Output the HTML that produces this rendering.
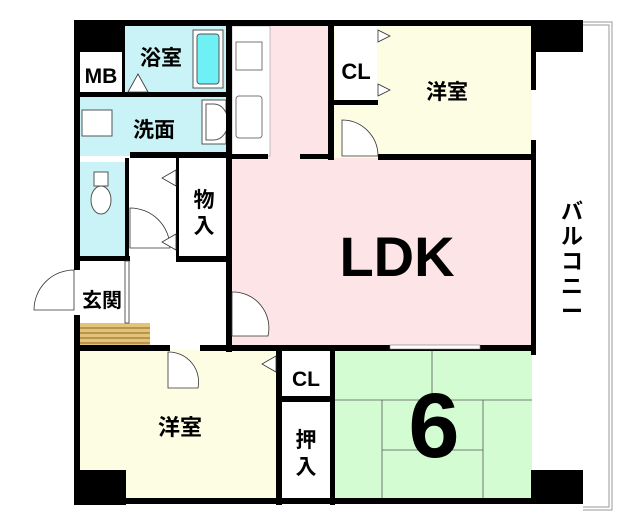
<!DOCTYPE html><html><head><meta charset="utf-8"><style>body{margin:0;background:#fff}svg{display:block}text{font-family:"Liberation Sans","Noto Sans CJK JP",sans-serif;font-weight:bold;fill:#000}</style></head><body>
<svg width="640" height="526" viewBox="0 0 640 526" xmlns="http://www.w3.org/2000/svg">
<rect x="230" y="24" width="302" height="324" fill="#fde4e6"/>
<rect x="232" y="26" width="38" height="130" fill="#fff" stroke="#999" stroke-width="0.6"/>
<rect x="332" y="24" width="200" height="134" fill="#fdfde4"/>
<rect x="335" y="26" width="42" height="74" fill="#fff"/>
<rect x="124" y="26" width="104" height="66" fill="#c9f3f6"/>
<rect x="80" y="96" width="148" height="60" fill="#c9f3f6"/>
<rect x="80" y="162" width="46" height="96" fill="#c9f3f6"/>
<rect x="80" y="52" width="42" height="40" fill="#fff"/>
<rect x="80" y="350" width="198" height="150" fill="#fdfde4"/>
<rect x="334" y="350" width="198" height="150" fill="#d4fcd2"/>
<rect x="80" y="323" width="70" height="22" fill="#e3c27a"/>
<g stroke="#8a6a20" stroke-width="1"><line x1="80" y1="328" x2="150" y2="328"/><line x1="80" y1="333" x2="150" y2="333"/><line x1="80" y1="338" x2="150" y2="338"/><line x1="80" y1="343" x2="150" y2="343"/></g>
<rect x="193" y="30" width="30" height="58" fill="#fff" stroke="#555"/>
<rect x="197" y="34" width="22" height="50" rx="3" fill="#6ef0f4" stroke="#555"/>
<rect x="82" y="110" width="30" height="26" fill="#fff" stroke="#555"/>
<rect x="202" y="100" width="24" height="44" fill="#fff" stroke="#555"/>
<path d="M206,104 h8 a14,18 0 0 1 0,36 h-8z" fill="#fff" stroke="#555"/>
<rect x="236" y="42" width="26" height="28" fill="#fff" stroke="#777"/>
<rect x="236" y="96" width="26" height="42" rx="3" fill="#fff" stroke="#777"/>
<ellipse cx="101" cy="200" rx="10" ry="14" fill="#fff" stroke="#555"/><rect x="94" y="172" width="14" height="14" fill="#fff" stroke="#555"/>
<g stroke="#555" stroke-width="0.8" fill="none"><line x1="334" y1="400" x2="532" y2="400"/><line x1="432" y1="350" x2="432" y2="400"/><line x1="382" y1="400" x2="382" y2="500"/><line x1="483" y1="400" x2="483" y2="500"/><line x1="382" y1="450" x2="483" y2="450"/></g>
<g fill="#000">
<rect x="74" y="20" width="462" height="6"/>
<rect x="74" y="20" width="6" height="250"/><rect x="74" y="315" width="6" height="190"/>
<rect x="74" y="20" width="50" height="32"/>
<rect x="531" y="20" width="52" height="32"/>
<rect x="531" y="20" width="5" height="70"/><rect x="531" y="140" width="5" height="215"/><rect x="531" y="470" width="52" height="34"/><rect x="531" y="470" width="5" height="34"/>
<rect x="74" y="470" width="52" height="35"/>
<rect x="74" y="498" width="462" height="6"/>
<rect x="122" y="26" width="3" height="66"/>
<rect x="74" y="92" width="154" height="5"/>
<rect x="226" y="26" width="6" height="130"/>
<rect x="74" y="156" width="6" height="6"/><rect x="130" y="152" width="102" height="6"/>
<rect x="226" y="152" width="6" height="200"/>
<rect x="230" y="154" width="38" height="5"/><rect x="300" y="154" width="30" height="5"/><rect x="378" y="154" width="158" height="6"/>
<rect x="328" y="26" width="6" height="134"/><rect x="332" y="100" width="46" height="5"/>
<rect x="125" y="158" width="4" height="100"/><rect x="74" y="256" width="56" height="5"/>
<rect x="176" y="158" width="3" height="100"/><rect x="176" y="256" width="54" height="6"/>
<rect x="74" y="345" width="96" height="6"/><rect x="200" y="345" width="336" height="6"/>
<rect x="276" y="345" width="6" height="160"/><rect x="330" y="345" width="5" height="160"/><rect x="278" y="396" width="56" height="6"/>
</g>
<rect x="125" y="261" width="4" height="62" fill="#fff" stroke="#333" stroke-width="0.8"/>
<rect x="390" y="345" width="90" height="4" fill="#fff" stroke="#777" stroke-width="0.6"/>
<g fill="#fff" stroke="#333" stroke-width="0.8">
<path d="M342,120 a36,36 0 0 1 36,36 h-36z"/>
<path d="M232,292 a36,36 0 0 1 36,44 h-36z"/>
<path d="M130,208 a40,40 0 0 1 40,40 h-40z"/>
<path d="M74,270 a40,40 0 0 0 -40,40 h40z"/>
<path d="M168,352 a30,30 0 0 1 30,36 h-30z"/>
<path d="M128,92 l10,-18 l10,18z"/>
<path d="M378,30 l12,6 l-12,6z"/><path d="M378,84 l12,6 l-12,6z"/>
<path d="M176,170 l-14,8 l14,8z"/><path d="M176,234 l-14,8 l14,8z"/>
<path d="M276,356 l-14,8 l14,8z"/>
</g>
<g fill="none" stroke="#999" stroke-width="1"><path d="M583,22 H612 V510 H583"/><path d="M583,25 H609 V507 H583"/></g>
<text x="101" y="83" font-size="21" text-anchor="middle">MB</text>
<text x="161" y="65" font-size="21" text-anchor="middle">浴室</text>
<text x="154" y="137" font-size="21" text-anchor="middle">洗面</text>
<text x="356" y="79" font-size="22" text-anchor="middle">CL</text>
<text x="447" y="99" font-size="21" text-anchor="middle">洋室</text>
<text x="204" y="207" font-size="21" text-anchor="middle">物</text><text x="204" y="233" font-size="21" text-anchor="middle">入</text>
<text x="102" y="307" font-size="20" text-anchor="middle">玄関</text>
<text x="397" y="276" font-size="56" text-anchor="middle">LDK</text>
<text x="306" y="386" font-size="21" text-anchor="middle">CL</text>
<text x="306" y="447" font-size="21" text-anchor="middle">押</text><text x="306" y="474" font-size="21" text-anchor="middle">入</text>
<text x="180" y="435" font-size="22" text-anchor="middle">洋室</text>
<text x="434" y="457" font-size="92" text-anchor="middle">6</text>
<text x="572" y="219" font-size="22" text-anchor="middle">バ</text><text x="572" y="244" font-size="22" text-anchor="middle">ル</text><text x="572" y="269" font-size="22" text-anchor="middle">コ</text><text x="572" y="294" font-size="22" text-anchor="middle">ニ</text><text x="572" y="319" font-size="22" text-anchor="middle">ー</text>
</svg></body></html>
